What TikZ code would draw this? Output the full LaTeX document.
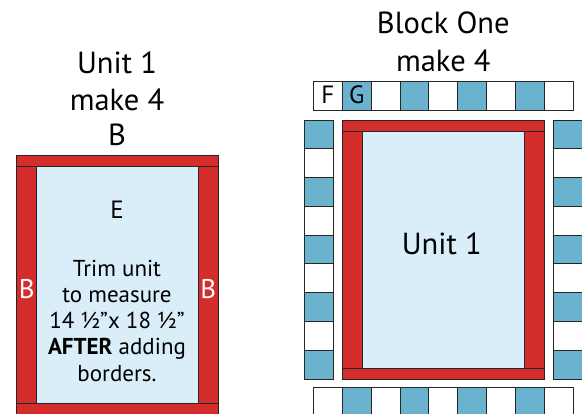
\documentclass[tikz,border=0pt]{standalone}
\usepackage{fontspec}
\setmainfont{PT Sans}
\definecolor{qred}{HTML}{D52D2C}
\definecolor{qblue}{HTML}{6BB2CF}
\definecolor{qlight}{HTML}{DAEEFA}
\begin{document}
\begin{tikzpicture}[x=1pt,y=-1pt,
  piece/.style={draw=black!85, line width=0.9pt},
  redp/.style={piece, fill=qred},
  bluep/.style={piece, fill=qblue},
  whitep/.style={piece, fill=white},
  lightp/.style={piece, fill=qlight},
  lbl/.style={anchor=base, inner sep=0pt},
  titletxt/.style={lbl, font=\fontsize{30.5}{30.5}\selectfont},
  bodytxt/.style={lbl, font=\fontsize{23}{23}\selectfont},
  glyphtxt/.style={lbl, font=\fontsize{25}{25}\selectfont},
  sidetxt/.style={lbl, text=white, font=\fontsize{27}{27}\selectfont}]
\useasboundingbox (0,0) rectangle (582,414);
% ---------- Unit 1 (left)
\draw[lightp] (36.7,166) rectangle (198.3,403.3);
\draw[redp] (16.7,155) rectangle (218.3,166);
\draw[redp] (16.7,166) rectangle (36.7,403.3);
\draw[redp] (198.3,166) rectangle (218.3,403.3);
\draw[redp] (16.7,403.3) rectangle (218.3,414.5);
\node[titletxt] (t1) at (117,73.3) {Unit 1};
\node[titletxt] (t2) at (117,110.7) {make 4};
\node[titletxt] (t3) at (117,146) {B};
\node[glyphtxt] (e) at (117,218.3) {E};
\node[sidetxt] (bl) at (26.7,298.3) {B};
\node[sidetxt] (br) at (208.3,298.3) {B};
\node[bodytxt] (l1) at (117,276.7) {Trim unit};
\node[bodytxt] (l2) at (117,302.6) {to measure};
\node[bodytxt] (l3) at (117,328.5) {14 ½”x 18 ½”};
\node[bodytxt] (l4) at (117,355) {\textbf{AFTER} adding};
\node[bodytxt] (l5) at (117,381.7) {borders.};
% ---------- Block One (right)
\node[titletxt] (b1) at (443.3,33.3) {Block One};
\node[titletxt] (b2) at (443.3,71.7) {make 4};
\foreach \i in {0,...,8}{
  \pgfmathsetmacro{\xa}{313.5+\i*28.83}
  \pgfmathsetmacro{\xb}{\xa+28.83}
  \ifodd\i
    \draw[bluep] (\xa,81.7) rectangle (\xb,110.7);
    \draw[bluep] (\xa,387.3) rectangle (\xb,416.3);
  \else
    \draw[whitep] (\xa,81.7) rectangle (\xb,110.7);
    \draw[whitep] (\xa,387.3) rectangle (\xb,416.3);
  \fi
}
\foreach \j in {0,...,8}{
  \pgfmathsetmacro{\ya}{120+\j*28.78}
  \pgfmathsetmacro{\yb}{\ya+28.78}
  \ifodd\j
    \draw[whitep] (304.3,\ya) rectangle (333.3,\yb);
    \draw[whitep] (553.3,\ya) rectangle (582.3,\yb);
  \else
    \draw[bluep] (304.3,\ya) rectangle (333.3,\yb);
    \draw[bluep] (553.3,\ya) rectangle (582.3,\yb);
  \fi
}
\node[glyphtxt] (f) at (327.9,103.8) {F};
\node[glyphtxt] (g) at (356.8,103.8) {G};
\draw[lightp] (362.7,131) rectangle (524.3,368.3);
\draw[redp] (342.7,120) rectangle (544.3,131);
\draw[redp] (342.7,368.3) rectangle (544.3,379);
\draw[redp] (342.7,131) rectangle (362.7,368.3);
\draw[redp] (524.3,131) rectangle (544.3,368.3);
\node[titletxt] (u) at (441.7,255) {Unit 1};
\end{tikzpicture}
\end{document}
